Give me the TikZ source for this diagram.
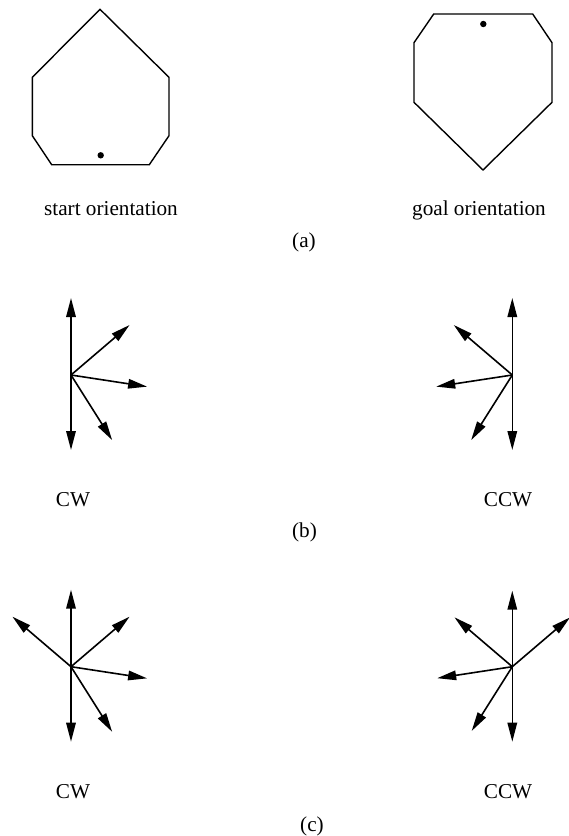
\documentclass[tikz,border=0pt]{standalone}
\usepackage{fontspec}
\setmainfont{Liberation Serif}
\usetikzlibrary{arrows.meta}
\begin{document}
\begin{tikzpicture}[x=1pt,y=-1pt,
  outline/.style={line width=1.4pt, line join=miter},
  marker/.style={fill=black},
  vec/.style={line width=1.6pt, -{Triangle[length=19pt,width=9.5pt]}},
  lbl/.style={font=\fontsize{21.2}{25}\selectfont, anchor=base, inner sep=0pt}]
\useasboundingbox (0,0) rectangle (569,836);

% (a) start and goal orientation of the polygon
\draw[outline] (100,9.3) -- (169,77.3) -- (169,135.7) -- (149.3,164.7)
  -- (51.7,164.7) -- (32.3,135.7) -- (32.3,77.3) -- cycle;
\fill[marker] (100.7,155.3) circle (3.2);
\draw[outline] (433.7,14) -- (532.7,14) -- (552,42.7) -- (552,102.3)
  -- (483,170) -- (414,102.3) -- (414,42.7) -- cycle;
\fill[marker] (483.3,24) circle (3.2);
\node[lbl] (lstart) at (111,215) {start orientation};
\node[lbl] (lgoal) at (479,215) {goal orientation};
\node[lbl] (la) at (304,247) {(a)};

% (b) vector sets
\coordinate (bcw) at (71,375);
\coordinate (bccw) at (512.3,375);
\foreach \a [count=\i] in {90,40.5,-8.7,-57.7} {
  \coordinate (bcwt\i) at ([shift={(-\a:77)}]bcw);
  \draw[vec] (bcw) -- (bcwt\i);
}
\coordinate (bcwd) at ([shift={(0,75)}]bcw);
\draw[vec] (bcw) -- (bcwd);
\foreach \a [count=\i] in {90,139.5,188.7,237.7} {
  \coordinate (bccwt\i) at ([shift={(-\a:77)}]bccw);
  \draw[vec] (bccw) -- (bccwt\i);
}
\coordinate (bccwd) at ([shift={(0,75)}]bccw);
\draw[vec] (bccw) -- (bccwd);
\node[lbl] (lcw1) at (73,506) {CW};
\node[lbl] (lccw1) at (508,506) {CCW};
\node[lbl] (lb) at (304.5,537) {(b)};

% (c) vector sets
\coordinate (ccw) at (71,666.7);
\coordinate (cccw) at (512.3,666.7);
\foreach \a [count=\i] in {90,40.5,-8.7,-57.7,139.5} {
  \coordinate (ccwt\i) at ([shift={(-\a:77)}]ccw);
  \draw[vec] (ccw) -- (ccwt\i);
}
\coordinate (ccwd) at ([shift={(0,75)}]ccw);
\draw[vec] (ccw) -- (ccwd);
\foreach \a [count=\i] in {90,139.5,188.7,237.7,40.5} {
  \coordinate (cccwt\i) at ([shift={(-\a:76)}]cccw);
  \draw[vec] (cccw) -- (cccwt\i);
}
\coordinate (cccwd) at ([shift={(0,75)}]cccw);
\draw[vec] (cccw) -- (cccwd);
\node[lbl] (lcw2) at (73,798) {CW};
\node[lbl] (lccw2) at (508,798) {CCW};
\node[lbl] (lc) at (312,831) {(c)};
\end{tikzpicture}
\end{document}
